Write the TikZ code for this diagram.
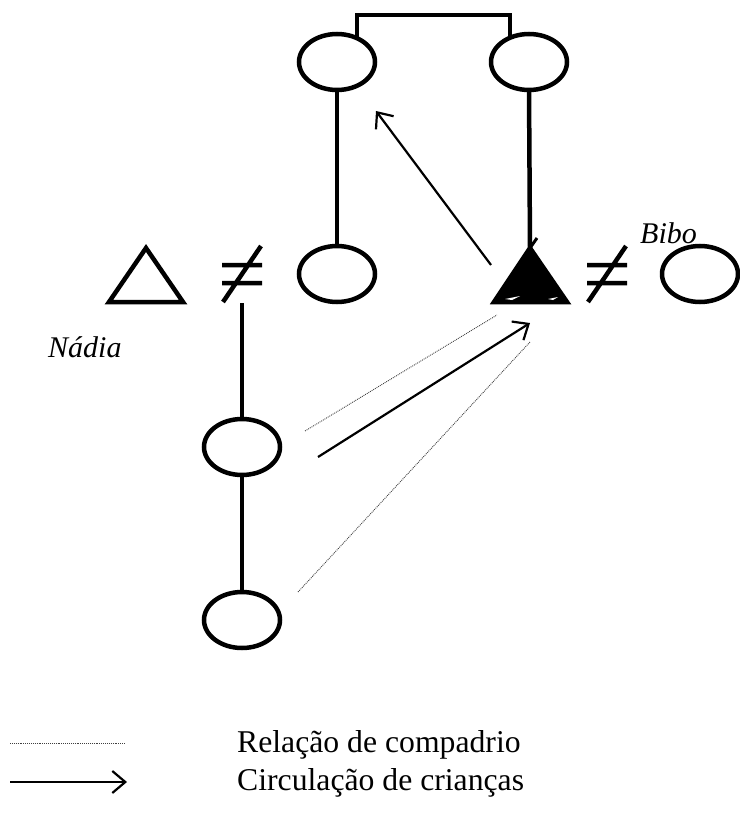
\documentclass[tikz,border=0pt]{standalone}
\usepackage{fontspec}
\setmainfont{Liberation Serif}
\usetikzlibrary{shapes.geometric,arrows.meta}
\tikzset{
  person/.style={draw, ellipse, line width=4.5pt, minimum width=76pt, minimum height=56pt, inner sep=0pt, outer sep=0pt},
  kin/.style={line width=4.5pt},
  tri/.style={line width=4.5pt, line join=miter},
  circ/.style={line width=2.2pt, -{Straight Barb[length=13pt,width=22pt,line width=2.2pt]}},
  compadrio/.style={densely dotted, line width=0.9pt, black!75},
  lbl/.style={font=\fontsize{30}{36}\selectfont, inner sep=0pt, anchor=base west},
  leglbl/.style={font=\fontsize{31.7}{38}\selectfont, inner sep=0pt, anchor=base west},
  neq/.style={line width=4.5pt}
}
\begin{document}
\begin{tikzpicture}[x=1pt,y=-1pt]
\useasboundingbox (0,0) rectangle (739,821);
% persons (ellipses)
\node[person] (gpL) at (337,62) {};
\node[person] (gpR) at (529,62) {};
\node[person] (mid) at (337,274) {};
\node[person] (wife) at (700,274) {};
\node[person] (c1) at (242,447) {};
\node[person] (c2) at (242,620) {};
% triangles
\coordinate (t1a) at (146,248);
\coordinate (t1l) at (109,302);
\coordinate (t1r) at (183,302);
\draw[tri] (t1l) -- (t1a) -- (t1r) -- cycle;
\coordinate (bibo) at (530,248);
\coordinate (t2l) at (494,302);
\coordinate (t2r) at (567,302);
\draw[tri, fill=black] (t2l) -- (bibo) -- (t2r) -- cycle;
\draw[line width=3pt] (bibo) -- ++(7,-10);
\fill[white] (505,299) -- (520,296) -- (512,300) -- cycle;
\fill[white] (548,299) -- (558,297) -- (553,300) -- cycle;
% marriage signs
\coordinate (m1) at (242,274);
\draw[neq] (222,265) -- (262,265) (222,283) -- (262,283) (261,246) -- (223,302);
\coordinate (m2) at (607,274);
\draw[neq] (587,265) -- (627,265) (587,283) -- (627,283) (626,246) -- (588,302);
% kinship lines
\coordinate (sibL) at (357,37);
\coordinate (sibR) at (510,37);
\draw[kin] (sibL) |- (510,15) -- (sibR);
\draw[kin] (gpL.south) -- (mid.north);
\draw[kin] (gpR.south) -- (bibo);
\coordinate (m1b) at (242,303);
\draw[kin] (m1b) -- (c1.north);
\draw[kin] (c1.south) -- (c2.north);
% circulation arrows
\coordinate (a1s) at (491,265);
\coordinate (a1e) at (376,111);
\draw[circ] (a1s) -- (a1e);
\coordinate (a2s) at (318,457);
\coordinate (a2e) at (530,323);
\draw[circ] (a2s) -- (a2e);
% compadrio lines
\coordinate (d1s) at (305,431);
\coordinate (d1e) at (497,315);
\draw[compadrio] (d1s) -- (d1e);
\coordinate (d2s) at (298,592);
\coordinate (d2e) at (530,342);
\draw[compadrio] (d2s) -- (d2e);
% names
\node[lbl] (nadia) at (48,357) {\itshape Nádia};
\node[lbl] (bibolbl) at (640,243) {\itshape Bibo};
% legend
\coordinate (l1s) at (10,743);
\coordinate (l1e) at (125,743);
\draw[compadrio] (l1s) -- (l1e);
\coordinate (l2s) at (10,782);
\coordinate (l2e) at (127,782);
\draw[circ] (l2s) -- (l2e);
\node[leglbl] (leg1) at (237,752) {Relação de compadrio};
\node[leglbl] (leg2) at (237,790) {Circulação de crianças};
\end{tikzpicture}
\end{document}
